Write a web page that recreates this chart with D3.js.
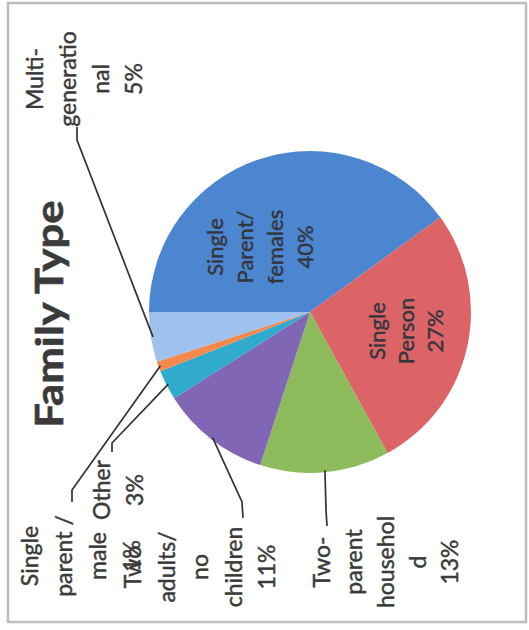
<!DOCTYPE html>
<html>
<head>
<meta charset="utf-8">
<script src="https://cdn.jsdelivr.net/npm/d3@7"></script>
<style>
  html, body { margin: 0; padding: 0; background: #ffffff; }
  svg { display: block; }
</style>
</head>
<body>
<svg id="chart" width="529" height="630"></svg>
<script>
// ---- data ----
const title = "Family Type";
const categories = [
  "Single parent/ females",
  "Single Person",
  "Two-parent household",
  "Two adults/ no children",
  "Other",
  "Single parent / male",
  "Multi-generational"
];
const values = [40, 27, 13, 11, 3, 1, 5];
const labelLines = [
  ["Single", "Parent/", "females", "40%"],
  ["Single", "Person", "27%"],
  ["Two-", "parent", "househol", "d", "13%"],
  ["Two", "adults/", "no", "children", "11%"],
  ["Other", "3%"],
  ["Single", "parent /", "male", "1%"],
  ["Multi-", "generatio", "nal", "5%"]
];
const colors = ["#4c86d0", "#dc6467", "#8dba5b", "#8266b6", "#30aacd", "#f5884b", "#9fc1ee"];

// ---- layout (chart is rotated 90° counter-clockwise) ----
const cx = 310, cy = 312, R = 161;
const font = "Lato, 'Open Sans', sans-serif";
const textColor = "#3a3a3a";
// per-label placement: first baseline x, centre y, line spacing, inside?, leader elbow & end
const layout = [
  { bx: 223, cy: 247, sp: 30, inside: true },
  { bx: 385, cy: 331, sp: 29, inside: true },
  { bx: 330, cy: 562, sp: 32, leader: [[326, 510], [327, 526]] },
  { bx: 141, cy: 567, sp: 33.5, leader: [[242, 502], [243, 518]] },
  { bx: 110, cy: 490, sp: 33, leader: [[112, 443], [112, 452]] },
  { bx: 38,  cy: 556, sp: 34, leader: [[72, 490], [72, 502]] },
  { bx: 43,  cy: 79,  sp: 33, leader: [[77, 140], [77, 127]] }
];

const svg = d3.select("#chart");

// border
svg.append("rect")
  .attr("x", 8).attr("y", 3).attr("width", 518).attr("height", 619)
  .attr("fill", "none").attr("stroke", "#bdbdbd").attr("stroke-width", 2.5);

const pie = d3.pie().sort(null).value(d => d)
  .startAngle(-Math.PI / 2).endAngle(1.5 * Math.PI);
const arcs = pie(values);
const arc = d3.arc().innerRadius(0).outerRadius(R);
const edgeArc = d3.arc().innerRadius(R - 2).outerRadius(R - 2);

const gPie = svg.append("g").attr("transform", `translate(${cx},${cy})`);
gPie.selectAll("path.slice").data(arcs).join("path")
  .attr("class", "slice")
  .attr("d", arc)
  .attr("fill", (d, i) => colors[i]);

// leader lines
arcs.forEach((a, i) => {
  const L = layout[i];
  if (!L.leader) return;
  const [ex, ey] = edgeArc.centroid(a);
  const pts = [[cx + ex, cy + ey], ...L.leader];
  svg.append("path")
    .attr("d", d3.line()(pts))
    .attr("fill", "none").attr("stroke", "#333").attr("stroke-width", 1.7);
});

function block(lines, bx, ccy, sp, size, weight, color, sx) {
  const t = svg.append("text")
    .attr("transform", `translate(${bx},${ccy}) rotate(-90) scale(${sx},1)`)
    .attr("text-anchor", "middle")
    .attr("font-family", font)
    .attr("font-size", size)
    .attr("font-weight", weight)
    .attr("fill", color)
    .attr("stroke", color)
    .attr("stroke-width", weight === "bold" ? 0.6 : 0.45);
  lines.forEach((l, k) => t.append("tspan").attr("x", 0).attr("y", k * sp).text(l));
  return t;
}

labelLines.forEach((lines, i) => {
  const L = layout[i];
  block(lines, L.bx, L.cy, L.sp, L.inside ? 22 : 23, "normal", L.inside ? "#35363d" : textColor, 1);
});

// title
block([title], 63, 314, 0, 39, "bold", textColor, 1.12);
</script>
</body>
</html>
